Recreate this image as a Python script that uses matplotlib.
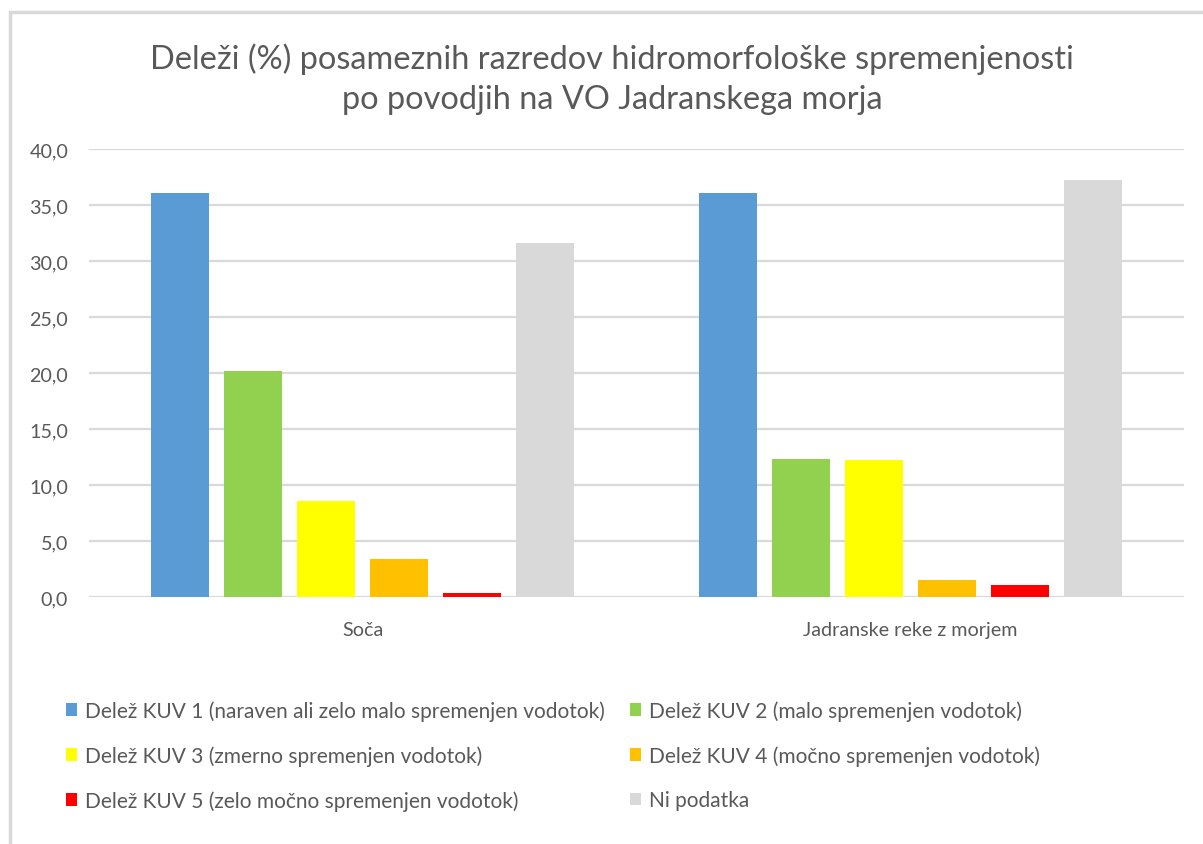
import numpy as np
import matplotlib.pyplot as plt
from matplotlib.patches import Rectangle, Patch

plt.rcParams['font.family'] = ['Lato', 'DejaVu Sans']

# categories and series values (%)
categories = ['Soča', 'Jadranske reke z morjem']
series_names = [
    'Delež KUV 1 (naraven ali zelo malo spremenjen vodotok)',
    'Delež KUV 2 (malo spremenjen vodotok)',
    'Delež KUV 3 (zmerno spremenjen vodotok)',
    'Delež KUV 4 (močno spremenjen vodotok)',
    'Delež KUV 5 (zelo močno spremenjen vodotok)',
    'Ni podatka',
]
kuv1 = [36.1, 36.1]
kuv2 = [20.2, 12.3]
kuv3 = [8.6, 12.2]
kuv4 = [3.4, 1.5]
kuv5 = [0.4, 1.1]
ni_podatka = [31.6, 37.2]
colors = ['#5b9bd5', '#92d050', '#ffff00', '#ffc000', '#ff0000', '#d9d9d9']

yticks = np.arange(0, 45, 5)
text_col = '#595959'

fig = plt.figure(figsize=(12.03, 8.45), dpi=100)
ax = fig.add_axes([89 / 1203, 0.2923, 1095 / 1203, 0.5302])

# chart border
fig.patches.append(Rectangle((10 / 1203, -0.1), 1.2, (845 - 13) / 845 + 0.1,
                             transform=fig.transFigure, fill=False,
                             edgecolor='#d9d9d9', linewidth=2.5))

data = [kuv1, kuv2, kuv3, kuv4, kuv5, ni_podatka]
x = np.arange(len(categories))
step = 0.1333
width = 0.106
for i, vals in enumerate(data):
    ax.bar(x + (i - 2.5) * step, vals, width, color=colors[i], zorder=3)

ax.set_xlim(-0.5, 1.5)
ax.set_ylim(0, 40)
ax.set_yticks(yticks)
ax.set_yticklabels([f'{v:.1f}'.replace('.', ',') for v in yticks])
ax.set_xticks(x)
ax.set_xticklabels(categories)
ax.tick_params(axis='both', length=0, labelsize=14.2, labelcolor=text_col)
ax.tick_params(axis='y', pad=15)
ax.tick_params(axis='x', pad=17)
ax.grid(axis='y', color='#d9d9d9', linewidth=1.6, zorder=0)
for s in ax.spines.values():
    s.set_visible(False)

fig.text(0.509, 0.9065, 'Deleži (%) posameznih razredov hidromorfološke spremenjenosti\npo povodjih na VO Jadranskega morja',
         ha='center', va='center', fontsize=23.4, color=text_col, linespacing=1.42)

handles = [Patch(facecolor=c) for c in colors]
kw = dict(frameon=False, fontsize=15, labelcolor=text_col, handlelength=0.55,
          handleheight=0.55, handletextpad=0.35, labelspacing=1.18, loc='upper left',
          borderpad=0, borderaxespad=0)
fig.legend([handles[0], handles[2], handles[4]],
           [series_names[0], series_names[2], series_names[4]],
           bbox_to_anchor=(66 / 1203, 1 - 701 / 845), **kw)
fig.legend([handles[1], handles[3], handles[5]],
           [series_names[1], series_names[3], series_names[5]],
           bbox_to_anchor=(630 / 1203, 1 - 701 / 845), **kw)

fig.savefig('out.png', dpi=100)
